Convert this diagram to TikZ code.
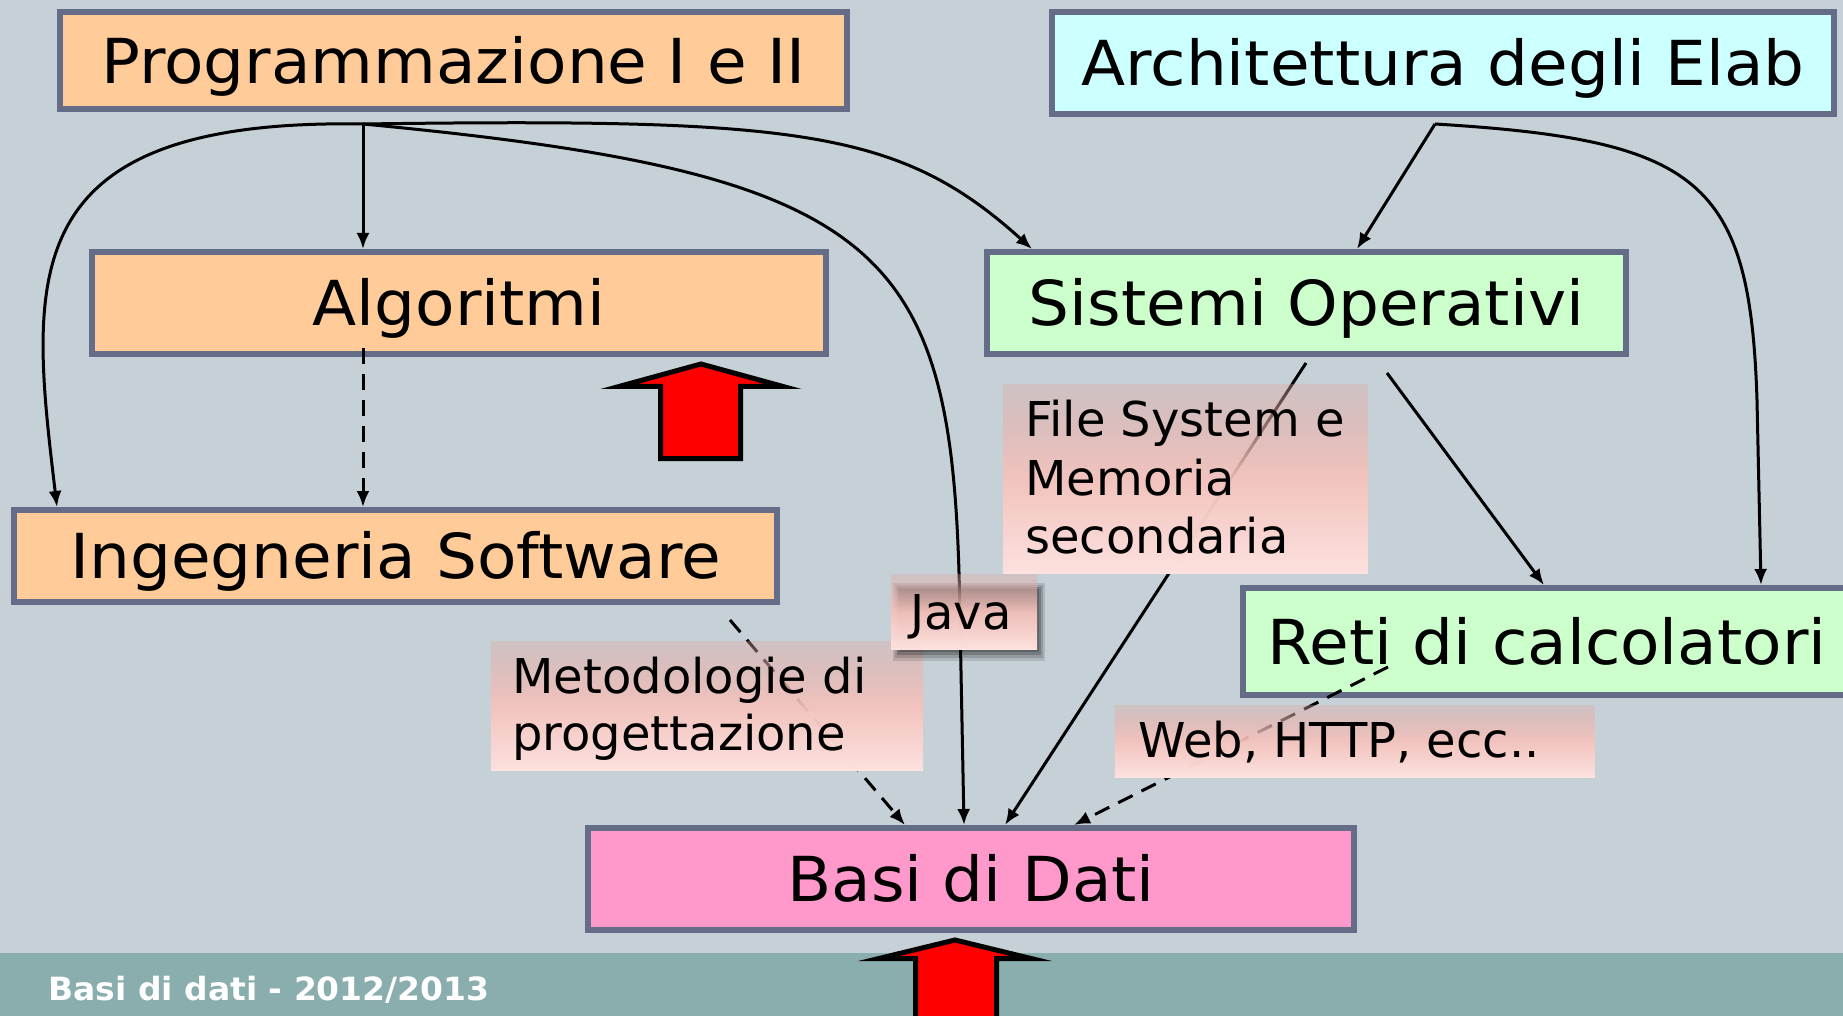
\documentclass[tikz,border=0pt]{standalone}
\usepackage{fontspec}
\setmainfont{DejaVu Sans}
\newfontfamily\bigfont{DejaVu Sans}[FakeStretch=1.04]
\newfontfamily\footfont{DejaVu Sans}[FakeStretch=1.03]
\usetikzlibrary{arrows.meta,calc,fadings}
\definecolor{bgc}{HTML}{C5D0D7}
\definecolor{footc}{HTML}{8AADAD}
\definecolor{bordc}{HTML}{646C88}
\definecolor{orangec}{HTML}{FFCC99}
\definecolor{cyanc}{HTML}{CCFFFF}
\definecolor{greenc}{HTML}{CCFFCC}
\definecolor{pinkc}{HTML}{FF99CC}
\definecolor{labtop}{HTML}{E3A9A2}
\definecolor{labmid}{HTML}{F5C3BD}
\definecolor{labbot}{HTML}{FDE2DF}
\tikzfading[name=labelfade, top color=transparent!65, bottom color=transparent!0, middle color=transparent!5]
\begin{document}
\begin{tikzpicture}[x=0.5pt, y=-0.5pt,
  bigbox/.style={draw=bordc, line width=3pt, inner sep=0pt,
    font=\bigfont\fontsize{31pt}{37pt}\selectfont, text height=22.6pt, text depth=0pt},
  labelbox/.style={shade, top color=labtop, bottom color=labbot, middle color=labmid,
    path fading=labelfade, inner sep=0pt},
  labtext/.style={anchor=base west, inner sep=0pt, font=\fontsize{24pt}{29pt}\selectfont},
  conn/.style={line width=1.5pt, -{Latex[length=8pt,width=6.5pt]}},
  dconn/.style={conn, dash pattern=on 8pt off 5pt},
  redarrow/.style={fill=red, draw=black, line width=2.5pt, line join=miter}
]
\useasboundingbox (0,0) rectangle (1843,1016);
\fill[bgc] (0,0) rectangle (1843,1016);
\fill[footc] (0,953) rectangle (1843,1016);
\node[anchor=base west, inner sep=0pt, text=white, font=\footfont\bfseries\fontsize{16pt}{19pt}\selectfont] (foot) at (48,1000) {Basi di dati - 2012/2013};

% main boxes
\node[bigbox, fill=orangec, minimum width=393.5pt, minimum height=48.5pt] (prog) at (453.5,60.5) {Programmazione I e II};
\node[bigbox, fill=orangec, minimum width=367pt, minimum height=51pt] (algo) at (459,303) {Algoritmi};
\node[bigbox, fill=cyanc, minimum width=391pt, minimum height=51pt] (arch) at (1443,63) {Architettura degli Elab};
\node[bigbox, fill=greenc, minimum width=319.5pt, minimum height=51pt] (sist) at (1306.5,303) {Sistemi Operativi};
\node[bigbox, fill=orangec, minimum width=381.5pt, minimum height=46pt] (inge) at (395.5,556) {Ingegneria Software};
\node[bigbox, fill=greenc, minimum width=304pt, minimum height=53.5pt] (reti) at (1547,641.5) {Reti di calcolatori};
\node[bigbox, fill=pinkc, minimum width=383pt, minimum height=51pt] (basi) at (971,879) {Basi di Dati};

% junctions
\coordinate (pj) at (363,124);
\coordinate (aj) at (1435,124);

% connectors
\draw[conn] (pj) -- (pj |- algo.north);
\draw[conn] (pj) .. controls (10,118) and (30,280) .. ($(inge.north west)+(46,0)$);
\draw[conn] (pj) .. controls (900,175) and (955,250) .. (960,620) -- ($(basi.north west)+(379,0)$);
\draw[conn] (pj) .. controls (800,118) and (900,130) .. ($(sist.north west)+(48,0)$);
\draw[dconn] ($(pj |- algo.south)+(0,-9)$) -- (pj |- inge.north);
\draw[conn] (aj) -- ($(sist.north west)+(373,0)$);
\draw[conn] (aj) .. controls (1700,140) and (1750,180) .. (1757,400) -- ($(reti.north west)+(521,0)$);
\draw[conn] ($(sist.south west)+(322,6)$) -- ($(basi.north west)+(420,0)$);
\draw[conn] ($(sist.south west)+(403,16)$) -- ($(reti.north west)+(304,0)$);
\draw[dconn] ($(inge.south west)+(719,15)$) -- ($(basi.north west)+(320,0)$);
\draw[dconn] ($(reti.south west)+(148,-31)$) -- ($(basi.north west)+(489,0)$);

% label boxes
\node[labelbox, minimum width=182.5pt, minimum height=94.5pt] (fsbox) at (1185.5,479.5) {};
\node[labelbox, minimum width=216pt, minimum height=64.5pt] (metbox) at (707,706.5) {};
\fill[black, opacity=0.12] (893,583) rectangle (1045,661);
\fill[black, opacity=0.15] (895,585) rectangle (1043,658);
\fill[black, opacity=0.2] (897,587) rectangle (1041,655);
\fill[black, opacity=0.2] (899,589) rectangle (1039,652);
\node[labelbox, minimum width=73pt, minimum height=37pt] (javabox) at (964,612) {};
\node[labelbox, minimum width=240pt, minimum height=36pt] (webbox) at (1355,741) {};

\node[labtext] (fs1) at (1025,437) {File System e};
\node[labtext] (fs2) at (1025,495) {Memoria};
\node[labtext] (fs3) at (1025,553) {secondaria};
\node[labtext] (met1) at (512,693) {Metodologie di};
\node[labtext] (met2) at (512,750) {progettazione};
\node[labtext] (java) at (910,629) {Java};
\node[labtext] (web) at (1138,757) {Web, HTTP, ecc..};

% red arrows
\draw[redarrow] (701,364) -- (783,386.5) -- (740.5,386.5) -- (740.5,458.5) -- (660.5,458.5) -- (660.5,386.5) -- (619,386.5) -- cycle;
\draw[redarrow] (955,940) -- (1031,958.5) -- (996.5,958.5) -- (996.5,1030) -- (915.5,1030) -- (915.5,958.5) -- (879,958.5) -- cycle;
\end{tikzpicture}
\end{document}
